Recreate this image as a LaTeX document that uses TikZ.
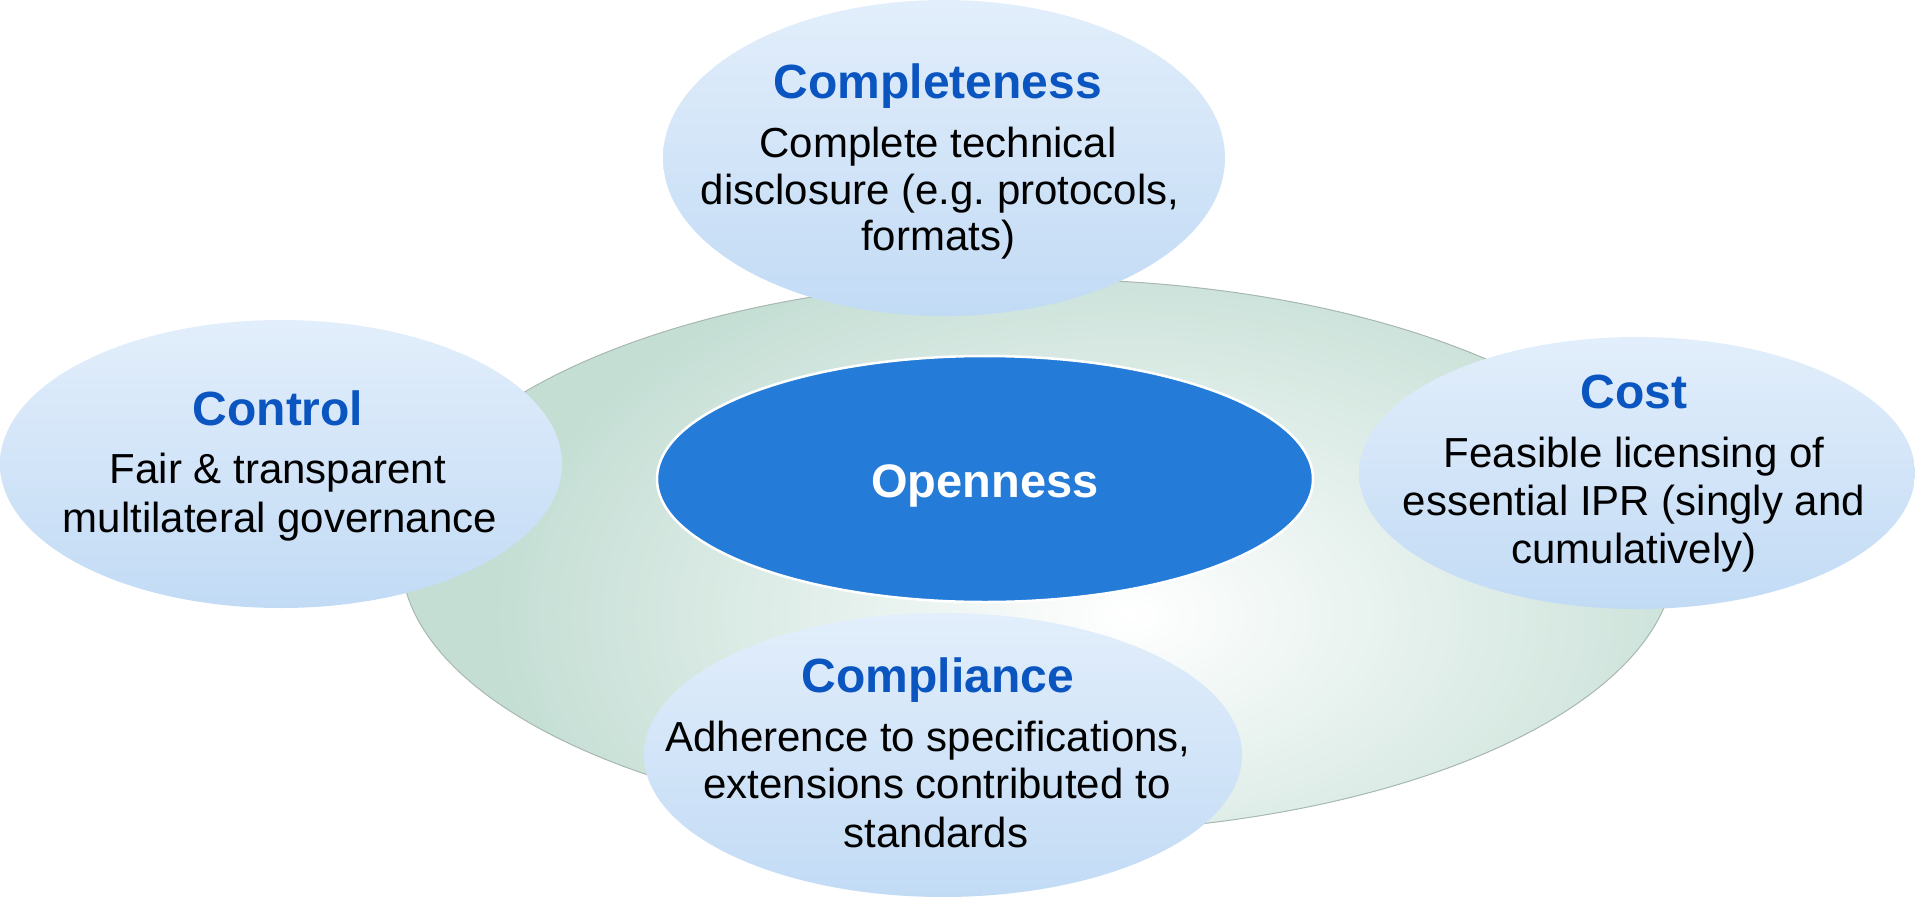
\documentclass[tikz,border=0pt]{standalone}
\usepackage{fontspec}
\setmainfont{Liberation Sans}
\usetikzlibrary{shapes.geometric}
\definecolor{hdblue}{HTML}{0B55C0}
\definecolor{opblue}{HTML}{247BD8}
\definecolor{bggreen}{HTML}{C4DED4}
\definecolor{bgedge}{HTML}{A8B8B0}
\definecolor{sattop}{HTML}{E2EEFB}
\definecolor{satbot}{HTML}{C2DBF5}
\frenchspacing
\begin{document}
\begin{tikzpicture}[x=1pt,y=-1pt,
  sat/.style={ellipse, inner sep=0pt, outer sep=0pt, top color=sattop, bottom color=satbot, draw=none},
  basebox/.style={ellipse, inner sep=0pt, outer sep=0pt, fill=bggreen, draw=none},
  core/.style={ellipse, inner sep=0pt, outer sep=0pt, fill=opblue, draw=white, line width=2.5pt},
  hdtxt/.style={anchor=base, inner sep=0pt, text=hdblue, font=\fontsize{48}{52}\selectfont\bfseries},
  bodytxt/.style={anchor=base, inner sep=0pt, text=black, font=\fontsize{42}{48}\selectfont},
  coretxt/.style={anchor=base, inner sep=0pt, text=white, font=\fontsize{47}{52}\selectfont\bfseries}]
\useasboundingbox (0,0) rectangle (1915,897);
% background ellipse
\node[basebox, minimum width=1274pt, minimum height=554pt] (base) at (1038,556) {};
\begin{scope}
  \clip (1038,556) ellipse [x radius=637, y radius=277];
  \shade[inner color=white, outer color=bggreen] (1130,615) ellipse [x radius=640, y radius=390];
\end{scope}
\draw[bgedge, line width=1pt] (1038,556) ellipse [x radius=637, y radius=277];
% core
\node[core, minimum width=656pt, minimum height=246pt] (open) at (985,479) {};
\node[coretxt] (opentxt) at (985,497) {Openness};
% satellites
\node[sat, minimum width=562pt, minimum height=288pt] (control) at (281,464) {};
\node[sat, minimum width=556pt, minimum height=272pt] (cost) at (1637,473) {};
\node[sat, minimum width=562pt, minimum height=316pt] (complete) at (944,158) {};
\node[sat, minimum width=598pt, minimum height=284pt] (comply) at (943,755) {};
% Control text
\node[hdtxt] (ctl-h) at (278,425) {Control};
\node[bodytxt] (ctl-1) at (278,483) {Fair \& transparent};
\node[bodytxt] (ctl-2) at (280,532) {multilateral governance};
% Cost text
\node[hdtxt] (cst-h) at (1634,408) {Cost};
\node[bodytxt] (cst-1) at (1634,467) {Feasible licensing of};
\node[bodytxt] (cst-2) at (1634,515) {essential IPR (singly and};
\node[bodytxt] (cst-3) at (1634,563) {cumulatively)};
% Completeness text
\node[hdtxt] (cpl-h) at (938,98) {Completeness};
\node[bodytxt] (cpl-1) at (938,157) {Complete technical};
\node[bodytxt] (cpl-2) at (940,204) {disclosure (e.g.\ protocols,};
\node[bodytxt] (cpl-3) at (938,250) {formats)};
% Compliance text
\node[hdtxt] (cmp-h) at (938,692) {Compliance};
\node[bodytxt] (cmp-1) at (928,751) {Adherence to specifications,};
\node[bodytxt] (cmp-2) at (937,798) {extensions contributed to};
\node[bodytxt] (cmp-3) at (936,847) {standards};
\end{tikzpicture}
\end{document}
